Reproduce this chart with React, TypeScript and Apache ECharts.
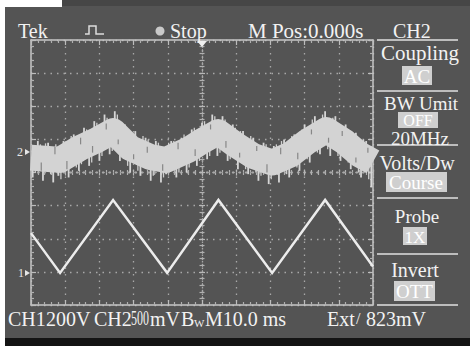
import React, { useEffect, useRef } from "react";
import * as echarts from "echarts";

// Time axis in divisions (-5..5), volts axis in divisions (-4..4)
const xDivisions = [-5, 5];
const yDivisions = [-4, 4];

// CH1: triangle wave vertices [div, div]
const ch1Trace: number[][] = [
  [-5, -1.83], [-4.15, -3.03], [-2.6, -0.83], [-1.02, -3.03],
  [0.48, -0.83], [2.05, -3.03], [3.6, -0.83], [5, -2.84],
];

// CH2: centre of the noisy band
const ch2Band: number[][] = [
  [-5, 0.45], [-4.4, 0.4], [-4.15, 0.38], [-3.57, 0.74], [-3.13, 0.95],
  [-2.6, 1.25], [-2.1, 0.74], [-1.52, 0.47], [-1.05, 0.38], [-0.4, 0.68],
  [0.0, 0.95], [0.47, 1.22], [0.96, 0.85], [1.5, 0.5], [2.05, 0.3],
  [2.6, 0.55], [3.1, 0.95], [3.63, 1.28], [4.18, 0.92], [4.6, 0.55], [5, 0.32],
];

// CH2 noise spikes: [x, base, tip]
const ch2Spikes: number[][] = [
  [-4.95, 0.45, -0.15], [-4.8, 0.44, 0.95], [-4.65, 0.42, -0.25], [-4.5, 0.41, 0.9],
  [-4.35, 0.4, -0.3], [-4.2, 0.39, -0.1], [-4.05, 0.44, 0.95], [-3.9, 0.53, -0.15],
  [-3.75, 0.63, 1.15], [-3.6, 0.72, 0.05], [-3.45, 0.8, 1.35], [-3.3, 0.88, 0.2],
  [-3.15, 0.94, 1.55], [-3.0, 1.02, 0.35], [-2.85, 1.11, 1.75], [-2.7, 1.19, 0.55],
  [-2.55, 1.23, 1.85], [-2.4, 1.05, 0.35], [-2.25, 0.88, 1.45], [-2.1, 0.74, 0.0],
  [-1.95, 0.67, 1.25], [-1.8, 0.6, -0.1], [-1.65, 0.53, 1.05], [-1.5, 0.47, -0.25],
  [-1.35, 0.44, 0.95], [-1.2, 0.41, -0.3], [-1.05, 0.38, -0.05], [-0.9, 0.43, 0.95],
  [-0.75, 0.5, -0.15], [-0.6, 0.58, 1.05], [-0.45, 0.66, 0.0], [-0.3, 0.75, 1.3],
  [-0.15, 0.87, 0.2], [0.0, 0.95, 1.5], [0.15, 1.05, 0.4], [0.3, 1.13, 1.75],
  [0.45, 1.21, 0.5], [0.6, 1.12, 1.7], [0.75, 1.01, 0.35], [0.9, 0.89, 1.45],
  [1.05, 0.79, 0.1], [1.2, 0.72, 1.25], [1.35, 0.6, -0.05], [1.5, 0.52, 1.05],
  [1.65, 0.46, -0.25], [1.8, 0.4, 0.9], [1.95, 0.34, -0.35], [2.1, 0.32, 0.8],
  [2.25, 0.39, -0.3], [2.4, 0.47, 1.0], [2.55, 0.54, -0.15], [2.7, 0.63, 1.15],
  [2.85, 0.75, 0.05], [3.0, 0.87, 1.45], [3.15, 0.98, 0.3], [3.3, 1.08, 1.7],
  [3.45, 1.17, 0.55], [3.6, 1.26, 1.85], [3.75, 1.2, 0.5], [3.9, 1.11, 1.7],
  [4.05, 1.01, 0.35], [4.2, 0.91, 1.45], [4.35, 0.77, 0.1], [4.5, 0.64, 1.2],
  [4.65, 0.53, -0.15], [4.8, 0.45, 0.95], [4.95, 0.34, -0.45],
];

// Finer, shorter CH2 spikes between the main ones: [x, base, tip]
const ch2FineSpikes: number[][] = [
  [-4.875, 0.44, 0.0], [-4.725, 0.43, 0.85], [-4.575, 0.42, 0.88], [-4.425, 0.4, -0.05],
  [-4.275, 0.4, 0.85], [-4.125, 0.41, -0.2], [-3.975, 0.48, 0.95], [-3.825, 0.58, 1.1],
  [-3.675, 0.68, 0.15], [-3.525, 0.76, 0.25], [-3.375, 0.84, 1.3], [-3.225, 0.91, 0.3],
  [-3.075, 0.98, 1.5], [-2.925, 1.07, 0.5], [-2.775, 1.15, 1.65], [-2.625, 1.24, 0.65],
  [-2.475, 1.15, 1.75], [-2.325, 0.96, 1.5], [-2.175, 0.81, 0.2], [-2.025, 0.71, 1.2],
  [-1.875, 0.63, 0.05], [-1.725, 0.57, 1.1], [-1.575, 0.5, 1.0], [-1.425, 0.46, -0.1],
  [-1.275, 0.42, 0.9], [-1.125, 0.39, -0.15], [-0.975, 0.4, 0.9], [-0.825, 0.46, 0.95],
  [-0.675, 0.54, 0.0], [-0.525, 0.62, 1.15], [-0.375, 0.7, 0.15], [-0.225, 0.81, 1.35],
  [-0.075, 0.91, 0.35], [0.075, 1.0, 1.55], [0.225, 1.09, 0.5], [0.375, 1.17, 1.7],
  [0.525, 1.17, 0.6], [0.675, 1.06, 1.6], [0.825, 0.95, 0.4], [0.975, 0.84, 1.35],
  [1.125, 0.75, 1.25], [1.275, 0.66, 0.1], [1.425, 0.56, 1.1], [1.575, 0.49, 0.0],
  [1.725, 0.43, -0.1], [1.875, 0.37, 0.85], [2.025, 0.31, -0.2], [2.175, 0.35, 0.85],
  [2.325, 0.43, 0.95], [2.475, 0.5, -0.05], [2.625, 0.58, 1.1], [2.775, 0.69, 0.15],
  [2.925, 0.81, 1.3], [3.075, 0.93, 0.4], [3.225, 1.03, 1.6], [3.375, 1.12, 0.6],
  [3.525, 1.22, 1.75], [3.675, 1.23, 0.7], [3.825, 1.16, 1.65], [3.975, 1.06, 0.5],
  [4.125, 0.96, 1.4], [4.275, 0.84, 0.3], [4.425, 0.7, 1.2], [4.575, 0.58, 0.0],
  [4.725, 0.49, 1.0], [4.875, 0.39, -0.2],
];

// Dark streaks inside the CH2 band: [x, from, to]
const ch2DarkStreaks: number[][] = [
  [-4.7, 0.3, 0.05], [-4.3, 0.55, 0.78], [-3.95, 0.35, 0.1], [-3.55, 0.85, 1.05],
  [-3.2, 0.8, 0.6], [-2.8, 1.3, 1.48], [-2.45, 1.0, 0.85], [-2.0, 0.55, 0.4],
  [-1.6, 0.6, 0.78], [-1.15, 0.25, 0.05], [-0.7, 0.7, 0.9], [-0.2, 0.7, 0.5],
  [0.25, 1.3, 1.45], [0.7, 0.95, 0.75], [1.1, 0.6, 0.45], [1.6, 0.65, 0.8],
  [1.9, 0.25, 0.0], [2.3, 0.55, 0.75], [2.8, 0.6, 0.4], [3.2, 1.15, 1.3],
  [3.7, 1.05, 0.9], [4.1, 1.1, 1.25], [4.5, 0.45, 0.3], [4.85, 0.6, 0.75],
];

const topTexts = ["Tek", "Stop", "M Pos:0.000s", "CH2"];
const menuTitles = ["Coupling", "BW Umit", "20MHz", "Volts/Dw", "Probe", "Invert"];
const menuValues = ["AC", "OFF", "Course", "1X", "OTT"];
const bottomTexts = ["CH1", "200V", "CH2", "500", "mV", "B", "W", "M10.0 ms", "Ext", "/", "823mV"];

const FONT = '"Liberation Serif", "Times New Roman", serif';
const TXT = "#f2f2f2";

function txt(text: string, x: number, y: number, size: number, align = "left", extra: any = {}) {
  const { fill, ...rest } = extra;
  return {
    type: "text",
    x,
    y,
    ...rest,
    style: {
      text,
      fill: fill || TXT,
      font: `${size}px ${FONT}`,
      textAlign: align,
      textVerticalAlign: "middle",
    },
    z: 10,
  };
}

function borderAxis(pos: string, range: number[], split: boolean) {
  return {
    type: "value",
    min: range[0],
    max: range[1],
    interval: 1,
    position: pos,
    axisLine: { show: true, onZero: false, lineStyle: { color: "#c6c6c6", width: 1.5 } },
    axisTick: { show: true, inside: true, length: 5, lineStyle: { color: "#bdbdbd", width: 1.2 } },
    minorTick: { show: true, splitNumber: 5, length: 3, lineStyle: { color: "#b0b0b0", width: 1.2 } },
    axisLabel: { show: false },
    splitLine: { show: split, lineStyle: { color: "#a8a8a8", type: [1.5, 5], width: 1.3 } },
    minorSplitLine: { show: false },
  };
}

function centerAxis(pos: string, range: number[], inside: boolean) {
  return {
    type: "value",
    min: range[0],
    max: range[1],
    interval: 1,
    position: pos,
    axisLine: { show: true, onZero: true, onZeroAxisIndex: 0, lineStyle: { color: "#a8a8a8", type: [1.5, 5], width: 1.3 } },
    axisTick: { show: true, inside, length: 3, lineStyle: { color: "#b8b8b8", width: 1.2 } },
    minorTick: { show: true, splitNumber: 5, length: 2.5, lineStyle: { color: "#b0b0b0", width: 1.2 } },
    axisLabel: { show: false },
    splitLine: { show: false },
  };
}

function spikeSeries(name: string, data: number[][], color: string, width: number, z: number) {
  return {
    type: "custom",
    name,
    data,
    xAxisIndex: 0,
    yAxisIndex: 0,
    encode: { x: 0, y: [1, 2] },
    renderItem: (_p: any, api: any) => {
      const a = api.coord([api.value(0), api.value(1)]);
      const b = api.coord([api.value(0), api.value(2)]);
      return {
        type: "line",
        shape: { x1: a[0], y1: a[1], x2: b[0], y2: b[1] },
        style: { stroke: color, lineWidth: width },
      };
    },
    z,
  };
}

export default function App() {
  const ref = useRef<HTMLDivElement>(null);
  useEffect(() => {
    if (!ref.current) return;
    const chart = echarts.init(ref.current, undefined, { renderer: "svg" });

    const menuLines = [40, 91, 145, 198, 254, 305].map((y) => ({
      type: "line",
      shape: { x1: 377, y1: y, x2: 458, y2: y },
      style: { stroke: "#bdbdbd", lineWidth: 2 },
      z: 5,
    }));

    const boxes = [
      [402, 66, 30, 19],
      [398, 112, 40, 16],
      [386, 172, 61, 20],
      [403, 227, 24, 18],
      [394, 281, 41, 20],
    ].map((b) => ({
      type: "rect",
      shape: { x: b[0], y: b[1], width: b[2], height: b[3] },
      style: { fill: "#cfcfcf" },
      z: 6,
    }));

    const option: any = {
      animation: false,
      backgroundColor: "#545454",
      grid: { left: 31, top: 40, width: 342, height: 265, containLabel: false },
      xAxis: [
        borderAxis("bottom", xDivisions, true),
        borderAxis("top", xDivisions, false),
        centerAxis("bottom", xDivisions, true),
        centerAxis("bottom", xDivisions, false),
      ],
      yAxis: [
        borderAxis("left", yDivisions, true),
        borderAxis("right", yDivisions, false),
        centerAxis("left", yDivisions, true),
        centerAxis("left", yDivisions, false),
      ],
      series: [
        {
          type: "line",
          name: "CH2 band",
          data: ch2Band,
          xAxisIndex: 0,
          yAxisIndex: 0,
          symbol: "none",
          lineStyle: { color: "#d3d3d3", width: 26, join: "round", cap: "butt" },
          clip: true,
          z: 3,
        },
        spikeSeries("CH2 noise", ch2Spikes, "#d6d6d6", 1.8, 3),
        spikeSeries("CH2 fine noise", ch2FineSpikes, "#cfcfcf", 1.3, 3),
        spikeSeries("CH2 streaks", ch2DarkStreaks, "rgba(110,110,110,0.75)", 1.2, 4),
        {
          type: "line",
          name: "CH1",
          data: ch1Trace,
          xAxisIndex: 0,
          yAxisIndex: 0,
          symbol: "none",
          lineStyle: { color: "#ececec", width: 2.5, join: "miter" },
          clip: true,
          z: 4,
        },
      ],
      graphic: {
        elements: [
          { type: "rect", shape: { x: 0, y: 0, width: 5, height: 346 }, style: { fill: "#ffffff" }, z: 20 },
          { type: "rect", shape: { x: 0, y: 0, width: 62, height: 7 }, style: { fill: "#ffffff" }, z: 20 },
          { type: "rect", shape: { x: 62, y: 0, width: 408, height: 6 }, style: { fill: "#464646" }, z: 20 },
          { type: "rect", shape: { x: 5, y: 338, width: 465, height: 8 }, style: { fill: "#141414" }, z: 20 },
          txt(topTexts[0], 18, 30.5, 20),
          {
            type: "polyline",
            shape: { points: [[85, 34], [89, 34], [89, 26], [96, 26], [96, 34], [104, 34]] },
            style: { stroke: "#dcdcdc", lineWidth: 1.5, fill: null },
            z: 10,
          },
          { type: "circle", shape: { cx: 160, cy: 31, r: 4.5 }, style: { fill: "#c9c9c9" }, z: 10 },
          txt(topTexts[1], 170, 30.5, 20),
          txt(topTexts[2], 248, 30.5, 21),
          txt(topTexts[3], 393, 30.5, 20),
          { type: "polygon", shape: { points: [[197, 41], [207, 41], [202, 47]] }, style: { fill: "#f0f0f0" }, z: 10 },
          ...menuLines,
          ...boxes,
          txt(menuTitles[0], 420, 53, 21, "center"),
          txt(menuValues[0], 417, 76, 19, "center", { fill: "#ffffff" }),
          txt(menuTitles[1], 421, 103, 19, "center"),
          txt(menuValues[1], 418, 120.5, 16, "center", { fill: "#ffffff" }),
          txt(menuTitles[2], 420, 138, 19, "center"),
          txt(menuTitles[3], 417, 162.5, 20, "center"),
          txt(menuValues[2], 416, 182.5, 19, "center", { fill: "#ffffff" }),
          txt(menuTitles[4], 417, 216, 19, "center"),
          txt(menuValues[3], 415, 237, 17, "center", { fill: "#ffffff" }),
          txt(menuTitles[5], 415, 269.5, 20, "center"),
          txt(menuValues[4], 414.5, 291.5, 19, "center", { fill: "#ffffff" }),
          txt(bottomTexts[0], 8, 318.5, 20),
          txt(bottomTexts[1], 46, 318.5, 20),
          txt(bottomTexts[2], 94, 318.5, 20),
          txt(bottomTexts[3], 131, 318.5, 20, "left", { scaleX: 0.6 }),
          txt(bottomTexts[4], 150, 318.5, 20),
          txt(bottomTexts[5], 181, 318.5, 20),
          txt(bottomTexts[6], 194, 323, 11),
          txt(bottomTexts[7], 205, 318.5, 20),
          txt(bottomTexts[8], 327, 318.5, 20),
          txt(bottomTexts[9], 356, 318.5, 16),
          txt(bottomTexts[10], 366, 318.5, 20),
          txt("2", 17, 152, 12, "left", { fill: "#e6e6e6" }),
          { type: "polygon", shape: { points: [[25, 149], [30, 152], [25, 155]] }, style: { fill: "#e6e6e6" }, z: 10 },
          txt("1", 18, 273, 12, "left", { fill: "#e6e6e6" }),
          { type: "polygon", shape: { points: [[25, 270], [30, 273], [25, 276]] }, style: { fill: "#e6e6e6" }, z: 10 },
        ],
      },
    };
    chart.setOption(option);
    return () => chart.dispose();
  }, []);
  return (
    <div
      ref={ref}
      style={{ position: "fixed", left: 0, top: 0, width: 470, height: 346 }}
    />
  );
}
